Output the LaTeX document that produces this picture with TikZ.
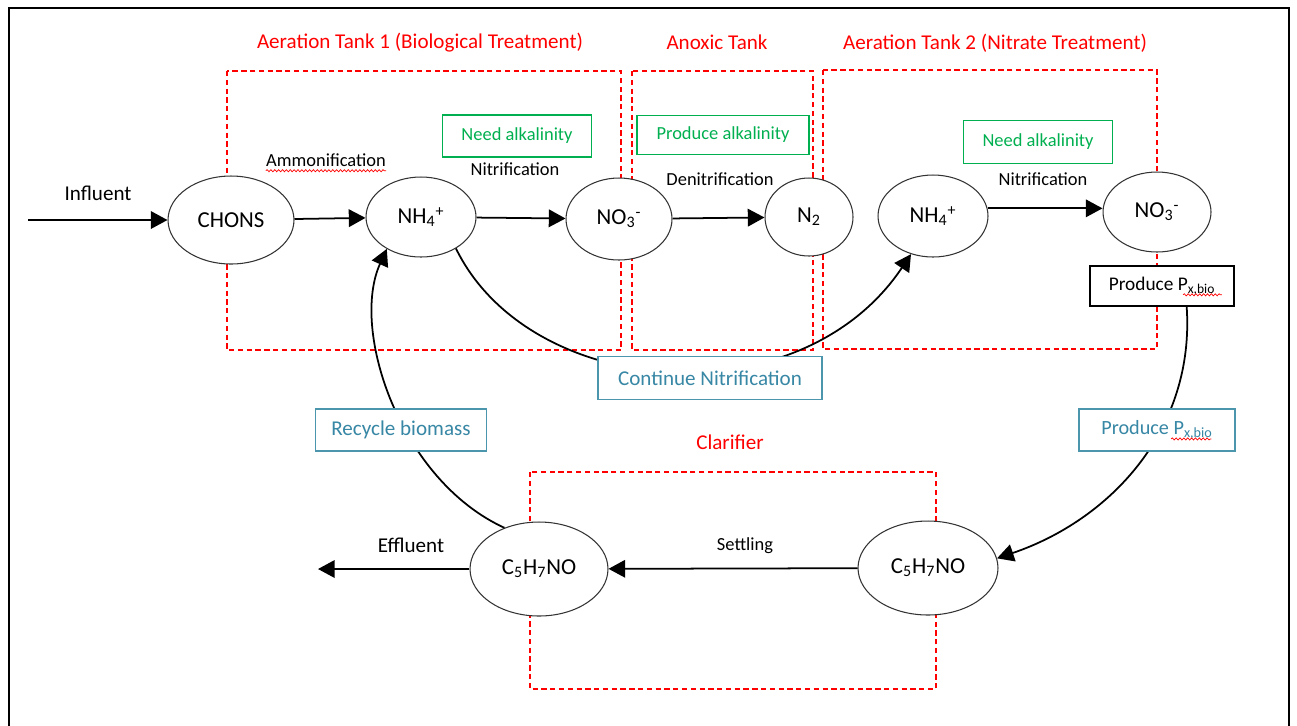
\documentclass[tikz,border=0pt]{standalone}
\usepackage{fontspec}
\setmainfont{Carlito}
\usetikzlibrary{shapes.geometric,arrows.meta,decorations.pathmorphing}
\definecolor{tankred}{RGB}{255,0,0}
\definecolor{alkgreen}{RGB}{0,176,80}
\definecolor{noteline}{RGB}{75,150,172}
\definecolor{notetext}{RGB}{55,135,165}

\begin{document}
\begin{tikzpicture}[x=0.02cm,y=-0.02cm,
  state/.style={ellipse,draw=black!80,line width=0.6pt,fill=white,inner sep=0pt,font=\fontsize{13}{15}\selectfont},
  arr/.style={line width=1pt,-{Triangle[length=9.5pt,width=10pt]}},
  tank/.style={draw=tankred,line width=0.6pt,dash pattern=on 3pt off 2pt},
  tanklbl/.style={text=tankred,font=\fontsize{12}{14}\selectfont},
  rxn/.style={inner sep=0pt,font=\fontsize{10.5}{12}\selectfont},
  flow/.style={inner sep=0pt,font=\fontsize{12}{14}\selectfont},
  alk/.style={draw=alkgreen,text=alkgreen,line width=0.8pt,fill=white,font=\fontsize{10.5}{12}\selectfont},
  note/.style={draw=noteline,text=notetext,line width=0.8pt,fill=white,font=\fontsize{12}{14}\selectfont},
  wavy/.style={draw=red,line width=0.4pt,decorate,decoration={snake,amplitude=0.6pt,segment length=2.2pt}}]
  \useasboundingbox (0,0) rectangle (1297,725);
  \draw[line width=1.4pt] (9,760) -- (9,8) -- (1289,8) -- (1289,760);

  \draw[tank] (227,71) rectangle (621,350);
  \draw[tank] (632,71) rectangle (813,350);
  \draw[tank] (823,70) rectangle (1157,349);
  \draw[tank] (530,472) rectangle (936,689);
  \node[tanklbl] (tank1) at (420,43) {Aeration Tank 1 (Biological Treatment)};
  \node[tanklbl] (tank2) at (717,42) {Anoxic Tank};
  \node[tanklbl] (tank3) at (995,43) {Aeration Tank 2 (Nitrate Treatment)};
  \node[tanklbl] (tank4) at (730,442) {Clarifier};

  \node[state,minimum width=2.52cm,minimum height=1.76cm] (chons) at (231,220) {CHONS};
  \node[state,minimum width=2.2cm,minimum height=1.6cm] (nh4a) at (421,217) {NH\textsubscript{4}\textsuperscript{+}};
  \node[state,minimum width=2.12cm,minimum height=1.64cm] (no3a) at (619,219) {NO\textsubscript{3}\textsuperscript{-}};
  \node[state,minimum width=1.76cm,minimum height=1.56cm] (n2) at (809,217) {N\textsubscript{2}};
  \node[state,minimum width=2.2cm,minimum height=1.64cm] (nh4b) at (933,216) {NH\textsubscript{4}\textsuperscript{+}};
  \node[state,minimum width=2.16cm,minimum height=1.6cm] (no3b) at (1157,212) {NO\textsubscript{3}\textsuperscript{-}};
  \node[state,minimum width=2.76cm,minimum height=1.88cm] (c5a) at (539,569) {C\textsubscript{5}H\textsubscript{7}NO};
  \node[state,minimum width=2.8cm,minimum height=1.88cm] (c5b) at (928,568) {C\textsubscript{5}H\textsubscript{7}NO};
  \coordinate (feed) at (28,220);
  \coordinate (drain) at (318,569);

  \node[flow] (feedlbl) at (98,193) {Influent};
  \node[flow] (drainlbl) at (411,545) {Effluent};
  \node[rxn] (ammon) at (326,160) {Ammonification};
  \node[rxn] (nitr1) at (515,169) {Nitrification};
  \node[rxn] (denitr) at (720,179) {Denitrification};
  \node[rxn] (nitr2) at (1043,179) {Nitrification};
  \node[rxn] (settle) at (745,546) {Settling};
  \draw[wavy] ([yshift=-2.5pt]ammon.base west) -- ([yshift=-2.5pt]ammon.base east);

  \node[alk,minimum width=2.98cm,minimum height=0.84cm] (alk1) at (517,136) {Need alkalinity};
  \node[alk,minimum width=3.44cm,minimum height=0.78cm] (alk2) at (723,135) {Produce alkalinity};
  \node[alk,minimum width=2.98cm,minimum height=0.86cm] (alk3) at (1038,142) {Need alkalinity};
  \node[draw,line width=0.8pt,fill=white,minimum width=2.88cm,minimum height=0.8cm,font=\fontsize{11}{13}\selectfont] (pxa) at (1162,286) {Produce P\textsubscript{x,bio}};
  \draw[wavy] ([xshift=12pt,yshift=-2.5pt]pxa.base) -- ([xshift=34pt,yshift=-2.5pt]pxa.base);

  \draw[arr] (feed) -- (chons);
  \draw[arr] (chons) -- (nh4a);
  \draw[arr] (nh4a) -- (no3a);
  \draw[arr] (no3a) -- (n2);
  \draw[arr] (nh4b.8) -- (nh4b.8 -| no3b.west);
  \draw[arr] (c5b) -- (c5a);
  \draw[arr] (c5a) -- (drain);
  \draw[arr] (nh4a.-42) .. controls (530,400) and (800,420) .. (nh4b.-120);
  \draw[arr] (c5a.130) .. controls (400,480) and (350,330) .. (nh4a.-137);
  \draw[arr] (pxa.-40) .. controls (1195,430) and (1110,520) .. (c5b.8);

  \node[note,minimum width=4.48cm,minimum height=0.86cm] (contn) at (710,378) {Continue Nitrification};
  \node[note,minimum width=3.42cm,minimum height=0.84cm] (recyc) at (401,430) {Recycle biomass};
  \node[note,minimum width=3.12cm,minimum height=0.84cm,font=\fontsize{11.5}{13}\selectfont] (pxb) at (1157,430) {Produce P\textsubscript{x,bio}};
  \draw[wavy] ([xshift=8pt,yshift=-2.5pt]pxb.base) -- ([xshift=31pt,yshift=-2.5pt]pxb.base);
\end{tikzpicture}
\end{document}
